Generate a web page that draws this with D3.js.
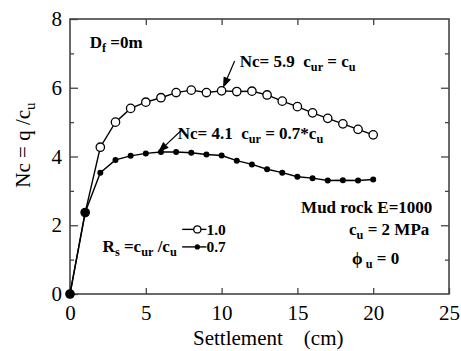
<!DOCTYPE html>
<html><head><meta charset="utf-8">
<script src="https://cdn.jsdelivr.net/npm/d3@7"></script>
<style>
html,body{margin:0;padding:0;background:#fff;}
text{font-family:"Liberation Serif","Times New Roman",serif;}
</style></head>
<body><svg id="c" width="461" height="351"></svg>
<script>
const settlement = [0,1,2,3,4,5,6,7,8,9,10,11,12,13,14,15,16,17,18,19,20];
const ncRs10 = [0,2.37,4.27,5.0,5.40,5.58,5.71,5.86,5.93,5.86,5.91,5.89,5.90,5.79,5.61,5.45,5.27,5.11,4.95,4.79,4.63];
const ncRs07 = [0,2.37,3.53,3.90,4.02,4.09,4.13,4.13,4.11,4.06,4.03,3.88,3.77,3.63,3.53,3.41,3.37,3.30,3.31,3.30,3.33];
const xTicks = [0,5,10,15,20,25];
const yTicks = [0,2,4,6,8];
const yMinor = [1,3,5,7];
const legendLabels = ["1.0","0.7"];

const svg = d3.select("#c");
const m = {l:70, t:19, r:12, b:57};
const W = 461, H = 351;
const x = d3.scaleLinear().domain([0,25]).range([m.l, W - m.r]);
const y = d3.scaleLinear().domain([0,8]).range([H - m.b, m.t]);
const axisColor = "#444";

function styleAxis(g){
  g.select(".domain").remove();
  g.selectAll(".tick line").attr("stroke", axisColor).attr("stroke-width", 1.3);
  g.selectAll(".tick text").attr("fill","#000").style("font-size","21px").style("font-family","'Liberation Serif',serif");
}
// frame
svg.append("rect").attr("x", x(0)).attr("y", y(8)).attr("width", x(25)-x(0)).attr("height", y(0)-y(8))
  .attr("fill","none").attr("stroke", axisColor).attr("stroke-width", 1.6);

svg.append("g").attr("transform",`translate(0,${y(0)})`)
  .call(d3.axisBottom(x).tickValues(xTicks).tickSizeInner(-6).tickSizeOuter(0).tickPadding(11).tickFormat(d3.format("d")))
  .call(styleAxis);
svg.append("g").attr("transform",`translate(0,${y(8)})`)
  .call(d3.axisTop(x).tickValues(xTicks.slice(1,-1)).tickSizeInner(-6).tickSizeOuter(0).tickFormat(""))
  .call(styleAxis);
svg.append("g").attr("transform",`translate(${x(0)},0)`)
  .call(d3.axisLeft(y).tickValues(yTicks).tickSizeInner(-8).tickSizeOuter(0).tickPadding(8).tickFormat(d3.format("d")))
  .call(styleAxis);
svg.append("g").attr("transform",`translate(${x(0)},0)`)
  .call(d3.axisLeft(y).tickValues(yMinor).tickSizeInner(-4).tickSizeOuter(0).tickFormat(""))
  .call(styleAxis);
svg.append("g").attr("transform",`translate(${x(25)},0)`)
  .call(d3.axisRight(y).tickValues(yTicks.slice(1,-1)).tickSizeInner(-8).tickSizeOuter(0).tickFormat(""))
  .call(styleAxis);
svg.append("g").attr("transform",`translate(${x(25)},0)`)
  .call(d3.axisRight(y).tickValues(yMinor).tickSizeInner(-4).tickSizeOuter(0).tickFormat(""))
  .call(styleAxis);

// axis titles
svg.append("text").attr("x", 193).attr("y", 345).attr("text-anchor","start")
  .style("font-size","21px").text("Settlement　(cm)");
const yt = svg.append("text").attr("transform",`translate(30,145) rotate(-90)`)
  .attr("text-anchor","middle").style("font-size","21px");
yt.append("tspan").text("Nc = q /c");
yt.append("tspan").attr("dy",5).style("font-size","15px").text("u");

// series
const line = d3.line().x((d,i)=>x(settlement[i])).y(d=>y(d));
svg.append("path").datum(ncRs07).attr("d", line).attr("fill","none").attr("stroke","#000").attr("stroke-width",1.4);
svg.append("path").datum(ncRs10).attr("d", line).attr("fill","none").attr("stroke","#000").attr("stroke-width",1.4);
svg.selectAll(".p10").data(ncRs10).join("circle").attr("class","p10")
  .attr("cx",(d,i)=>x(settlement[i])).attr("cy",d=>y(d)).attr("r",4.2)
  .attr("fill",(d,i)=> d===ncRs07[i] ? "#000" : "#fff").attr("stroke","#000").attr("stroke-width",1.3);
svg.selectAll(".p07").data(ncRs07).join("circle").attr("class","p07")
  .attr("cx",(d,i)=>x(settlement[i])).attr("cy",d=>y(d)).attr("r",3)
  .attr("fill","#000");

// annotations
function bold(xp, yp, parts, size, anchor){
  const t = svg.append("text").attr("x",xp).attr("y",yp).attr("font-weight","bold")
    .style("font-size", size+"px").style("white-space","pre").attr("text-anchor", anchor||"start");
  let shift = 0;
  parts.forEach(p=>{
    const s = t.append("tspan").text(p[0]);
    const target = p[1]==="sub" ? 4 : 0;
    if (target !== shift) { s.attr("dy", target - shift); shift = target; }
    if (p[1]==="sub") s.style("font-size", (size*0.72)+"px");
  });
  return t;
}
const fs = 17;
bold(x(1.3), y(7.15), [["D",""],["f","sub"],[" =0m",""]], fs);
bold(x(11.2), y(6.61), [["Nc= 5.9  c",""],["ur","sub"],[" = c",""],["u","sub"]], fs);
bold(x(7.1), y(4.52), [["Nc= 4.1  c",""],["ur","sub"],[" = 0.7*c",""],["u","sub"]], fs);
bold(x(23.9), y(2.36), [["Mud rock E=1000",""]], fs, "end");
bold(x(23.7), y(1.72), [["c",""],["u","sub"],[" = 2 MPa",""]], fs, "end");
bold(x(18.6), y(0.87), [["ϕ",""],[" u","sub"],[" = 0",""]], fs);
bold(x(2.15), y(1.22), [["R",""],["s","sub"],[" =c",""],["ur","sub"],[" /c",""],["u","sub"]], fs);

// legend
const legY = [y(1.88), y(1.37)];
legendLabels.forEach((lab,i)=>{
  svg.append("line").attr("x1", x(7.4)).attr("x2", x(9.0)).attr("y1", legY[i]).attr("y2", legY[i]).attr("stroke","#000").attr("stroke-width",1.4);
  if (i===0) svg.append("circle").attr("cx", x(8.4)).attr("cy", legY[i]).attr("r",3.6).attr("fill","#fff").attr("stroke","#000").attr("stroke-width",1.3);
  else svg.append("circle").attr("cx", x(8.4)).attr("cy", legY[i]).attr("r",2.6).attr("fill","#000");
  bold(x(9.0), legY[i]+5.5, [[lab,""]], 15.5);
});

// arrows
function arrow(x1,y1,x2,y2){
  const X1=x(x1),Y1=y(y1),X2=x(x2),Y2=y(y2);
  const a=Math.atan2(Y2-Y1,X2-X1), L=11, w=4;
  const bx=X2-L*Math.cos(a), by=Y2-L*Math.sin(a);
  svg.append("line").attr("x1",X1).attr("y1",Y1).attr("x2",bx).attr("y2",by).attr("stroke","#000").attr("stroke-width",1.2);
  svg.append("path").attr("d",`M${X2},${Y2}L${bx+w*Math.sin(a)},${by-w*Math.cos(a)}L${bx-w*Math.sin(a)},${by+w*Math.cos(a)}Z`).attr("fill","#000");
}
arrow(10.86,6.78,10.09,5.99);
arrow(7.37,4.77,5.8,4.12);
</script></body></html>
